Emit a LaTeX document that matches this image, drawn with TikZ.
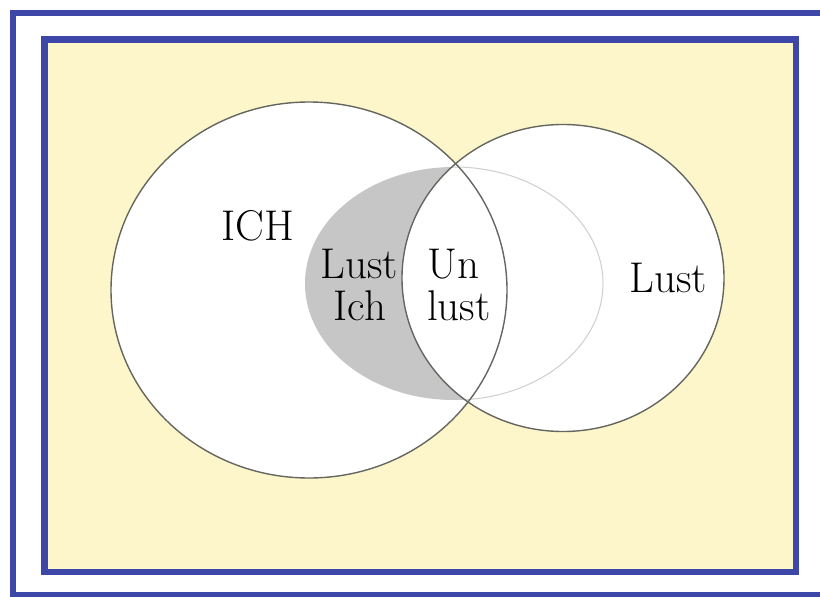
\documentclass[tikz,border=0pt]{standalone}
\usepackage{tikz}
\definecolor{frameblue}{HTML}{3C47A8}
\definecolor{paleyellow}{HTML}{FDF6CA}
\definecolor{lensgray}{HTML}{C6C6C6}
\definecolor{rimgray}{HTML}{666660}
\definecolor{faintgray}{HTML}{CFCFCF}
\tikzset{
  framebox/.style={draw=frameblue, line width=6.5pt},
  setline/.style={draw=rimgray, line width=1.4pt},
  lbl/.style={inner sep=0pt, anchor=base, font=\fontsize{43}{42}\selectfont}
}
\begin{document}
\begin{tikzpicture}[x=1pt,y=-1pt]
\useasboundingbox (0,0) rectangle (820,597);
\clip (0,0) rectangle (820,597);
\fill[white] (0,0) rectangle (820,597);
% outer frame (right edge runs off the picture)
\draw[framebox, line width=6pt] (13,13) rectangle (840,595);
% inner frame
\fill[paleyellow] (44.5,39.5) rectangle (796,572);
\draw[framebox] (44.5,39.5) rectangle (796,572);
% set areas
\fill[white] (309,290) ellipse [x radius=198, y radius=188];
\fill[white] (563,278) ellipse [x radius=161, y radius=153.5];
\fill[lensgray] (454,283.5) ellipse [x radius=149, y radius=116.5];
\fill[white] (563,278) ellipse [x radius=161, y radius=153.5];
\begin{scope}
  \clip (563,278) ellipse [x radius=161, y radius=153.5];
  \draw[faintgray, line width=1pt] (454,283.5) ellipse [x radius=149, y radius=116.5];
\end{scope}
\draw[setline] (309,290) ellipse [x radius=198, y radius=188];
\draw[setline] (563,278) ellipse [x radius=161, y radius=153.5];
% labels
\node[lbl] (ich) at (257.5,240) {ICH};
\node[lbl] (lustl) at (359.5,278) {Lust};
\node[lbl] (ichl) at (360,320) {Ich};
\node[lbl, anchor=base west] (un) at (427,278) {Un};
\node[lbl, anchor=base west] (unlust) at (427,320) {lust};
\node[lbl] (lustr) at (668.5,292) {Lust};
\end{tikzpicture}
\end{document}
